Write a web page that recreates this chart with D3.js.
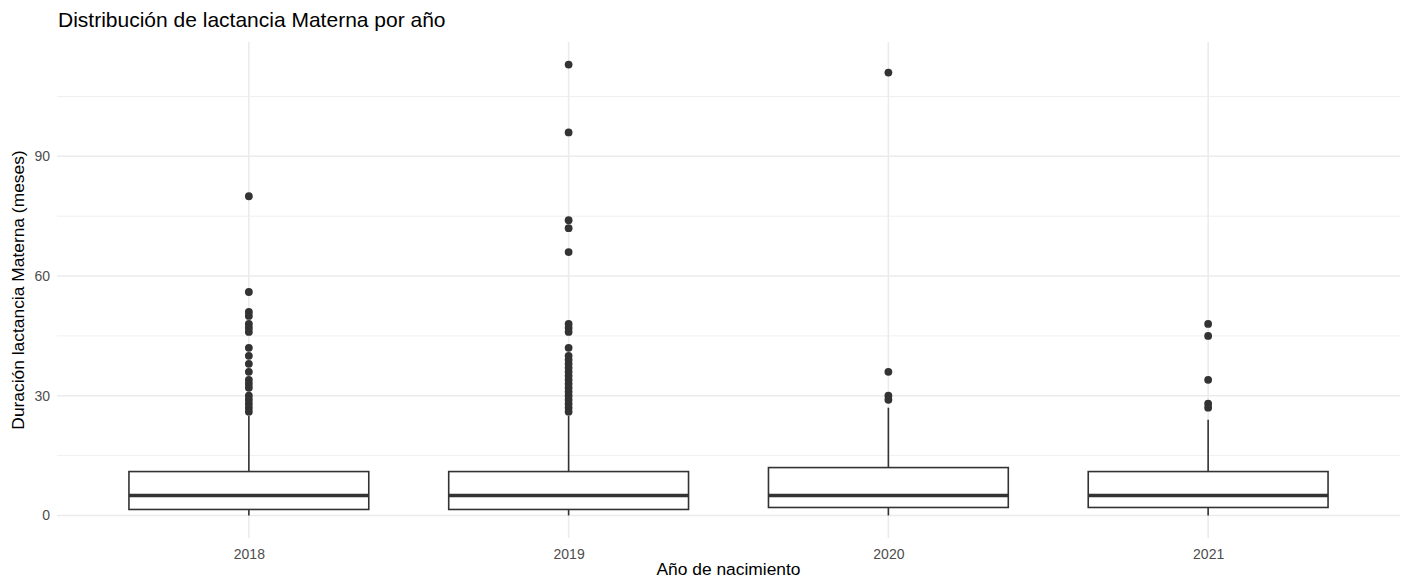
<!DOCTYPE html>
<html>
<head>
<meta charset="utf-8">
<script src="https://cdn.jsdelivr.net/npm/d3@7"></script>
<style>
  html, body { margin: 0; padding: 0; background: #ffffff; }
  svg { display: block; font-family: "Liberation Sans", Arial, sans-serif; }
</style>
</head>
<body>
<svg id="chart" width="1406" height="580"></svg>
<script>
// ---- data ----
const categories = ["2018", "2019", "2020", "2021"];
const q1 = [1.5, 1.5, 2, 2];
const medians = [5, 5, 5, 5];
const q3 = [11, 11, 12, 11];
const whiskerLow = [0, 0, 0, 0];
const whiskerHigh = [25, 25, 27, 24];
const outliers2018 = [80, 56, 51, 50, 48, 47, 46, 42, 40, 38, 36, 34, 33, 32, 30, 29, 28, 27, 26];
const outliers2019 = [113, 96, 74, 72, 66, 48, 47, 46, 42, 40, 39, 38, 37, 36, 35, 34, 33, 32, 31, 30, 29, 28, 27, 26];
const outliers2020 = [111, 36, 30, 29];
const outliers2021 = [48, 45, 34, 28, 27];
const outliers = [outliers2018, outliers2019, outliers2020, outliers2021];
const yTicks = [0, 30, 60, 90];
const yMinorTicks = [15, 45, 75, 105];
const titleText = "Distribución de lactancia Materna por año";
const xTitle = "Año de nacimiento";
const yTitle = "Duración lactancia Materna (meses)";

// ---- layout ----
const svg = d3.select("#chart");
const panel = { left: 57, right: 1400, top: 42, bottom: 538 };

const dataMax = d3.max(outliers.flat().concat(whiskerHigh));
const dataMin = d3.min(whiskerLow);
const pad = (dataMax - dataMin) * 0.05;

const x = d3.scalePoint().domain(categories).range([panel.left, panel.right]).padding(0.6);
const y = d3.scaleLinear().domain([dataMin - pad, dataMax + pad]).range([panel.bottom, panel.top]);
const boxW = x.step() * 0.75;

const grid = "#EBEBEB";
const ink = "#333333";

// minor horizontal grid
svg.append("g").selectAll("line").data(yMinorTicks).join("line")
  .attr("x1", panel.left).attr("x2", panel.right)
  .attr("y1", d => y(d)).attr("y2", d => y(d))
  .attr("stroke", grid).attr("stroke-width", 0.8);

// major horizontal grid
svg.append("g").selectAll("line").data(yTicks).join("line")
  .attr("x1", panel.left).attr("x2", panel.right)
  .attr("y1", d => y(d)).attr("y2", d => y(d))
  .attr("stroke", grid).attr("stroke-width", 1.6);

// vertical major grid
svg.append("g").selectAll("line").data(categories).join("line")
  .attr("x1", d => x(d)).attr("x2", d => x(d))
  .attr("y1", panel.top).attr("y2", panel.bottom)
  .attr("stroke", grid).attr("stroke-width", 1.6);

// axes via d3 axis generators (no domain / ticks lines, ggplot minimal style)
const yAxis = svg.append("g")
  .attr("transform", `translate(${panel.left},0)`)
  .call(d3.axisLeft(y).tickValues(yTicks).tickSize(0).tickPadding(7));
yAxis.select(".domain").remove();
yAxis.selectAll("text")
  .attr("fill", "#4D4D4D").attr("font-size", "14px")
  .attr("font-family", "Liberation Sans, Arial, sans-serif");

const xAxis = svg.append("g")
  .attr("transform", `translate(0,${panel.bottom})`)
  .call(d3.axisBottom(x).tickSize(0).tickPadding(11));
xAxis.select(".domain").remove();
xAxis.selectAll("text")
  .attr("fill", "#4D4D4D").attr("font-size", "14px")
  .attr("font-family", "Liberation Sans, Arial, sans-serif");

// boxes
const boxes = categories.map((c, i) => ({
  c, q1: q1[i], med: medians[i], q3: q3[i], lo: whiskerLow[i], hi: whiskerHigh[i], out: outliers[i]
}));

const g = svg.append("g");
// whiskers
g.selectAll("line.wup").data(boxes).join("line").attr("class", "wup")
  .attr("x1", d => x(d.c)).attr("x2", d => x(d.c))
  .attr("y1", d => y(d.q3)).attr("y2", d => y(d.hi))
  .attr("stroke", ink).attr("stroke-width", 1.6);
g.selectAll("line.wlo").data(boxes).join("line").attr("class", "wlo")
  .attr("x1", d => x(d.c)).attr("x2", d => x(d.c))
  .attr("y1", d => y(d.q1)).attr("y2", d => y(d.lo))
  .attr("stroke", ink).attr("stroke-width", 1.6);
// box rect
g.selectAll("rect").data(boxes).join("rect")
  .attr("x", d => x(d.c) - boxW / 2).attr("width", boxW)
  .attr("y", d => y(d.q3)).attr("height", d => y(d.q1) - y(d.q3))
  .attr("fill", "#ffffff").attr("stroke", ink).attr("stroke-width", 1.6);
// median
g.selectAll("line.med").data(boxes).join("line").attr("class", "med")
  .attr("x1", d => x(d.c) - boxW / 2).attr("x2", d => x(d.c) + boxW / 2)
  .attr("y1", d => y(d.med)).attr("y2", d => y(d.med))
  .attr("stroke", ink).attr("stroke-width", 3.4);
// outliers
const pts = boxes.flatMap(d => d.out.map(v => ({ c: d.c, v })));
g.selectAll("circle").data(pts).join("circle")
  .attr("cx", d => x(d.c)).attr("cy", d => y(d.v)).attr("r", 3.9)
  .attr("fill", ink);

// titles
svg.append("text").attr("x", 58).attr("y", 27)
  .attr("font-size", "21px").attr("fill", "#000").text(titleText);
svg.append("text").attr("x", (panel.left + panel.right) / 2).attr("y", 575)
  .attr("text-anchor", "middle").attr("font-size", "17.4px").attr("fill", "#000").text(xTitle);
svg.append("text")
  .attr("transform", `translate(24,${(panel.top + panel.bottom) / 2}) rotate(-90)`)
  .attr("text-anchor", "middle").attr("font-size", "17.4px").attr("fill", "#000").text(yTitle);
</script>
</body>
</html>
